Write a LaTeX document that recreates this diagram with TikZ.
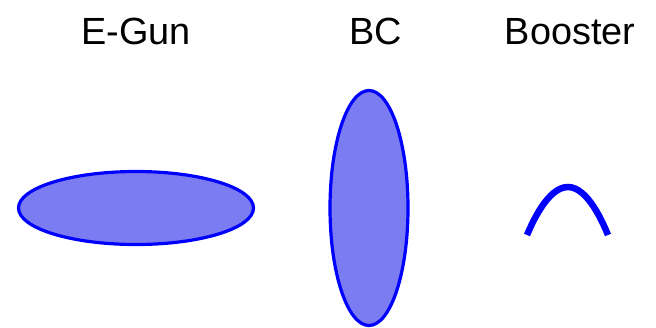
\documentclass[tikz,border=0pt]{standalone}
\usepackage{fontspec}
\setmainfont{Liberation Sans}
\usetikzlibrary{shapes.geometric, positioning}
\definecolor{BeamBlue}{HTML}{0000FF}
\definecolor{BeamFill}{HTML}{7C7CF2}
\tikzset{
    % Beam shapes
    bunch/.style={
        ellipse,
        draw=BeamBlue,
        fill=BeamFill,
        line width=3.2bp,
        inner sep=0pt
    },
    % Labels
    stagelabel/.style={
        anchor=base,
        font=\fontsize{38}{40}\selectfont
    },
    beamline/.style={
        draw=BeamBlue,
        line width=6.5bp
    }
}
\begin{document}
\begin{tikzpicture}[x=1bp, y=-1bp]
    \useasboundingbox (0,0) rectangle (656,327);

    % Stage names
    \node[stagelabel] (gunlabel) at (136,44) {E-Gun};
    \node[stagelabel] (bclabel) at (376,44) {BC};
    \node[stagelabel] (boosterlabel) at (570,44) {Booster};

    % Bunch shapes
    \node[bunch, minimum width=235bp, minimum height=73bp] (gun) at (136,208) {};
    \node[bunch, minimum width=78bp, minimum height=235bp] (bc) at (369,208) {};

    % Booster curve
    \coordinate (boostl) at (527,235);
    \coordinate (boosttop) at (568,187);
    \coordinate (boostr) at (608,235);
    \draw[beamline] (boostl) parabola bend (boosttop) (boostr);
\end{tikzpicture}
\end{document}
